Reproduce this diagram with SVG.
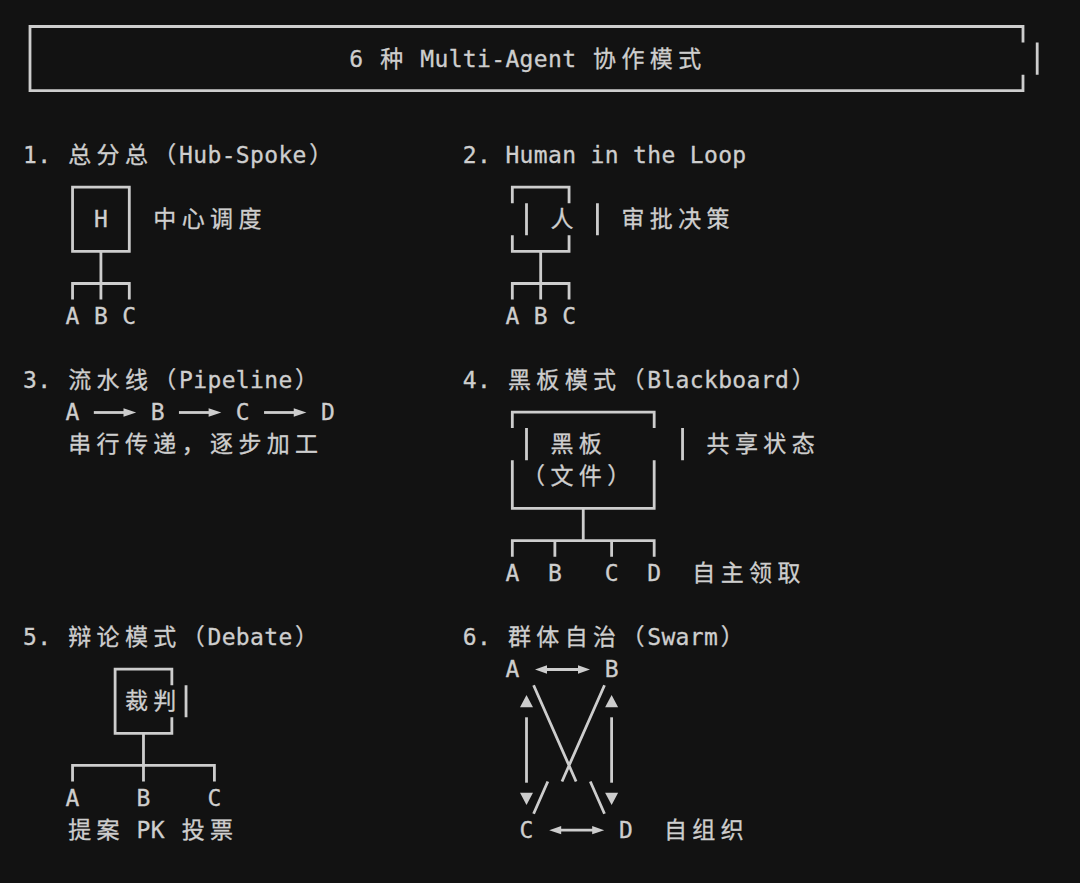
<svg xmlns="http://www.w3.org/2000/svg" xmlns:xlink="http://www.w3.org/1999/xlink" width="1080" height="883" viewBox="0 0 1080 883">
<style>
text{font-family:"DejaVu Sans Mono","Noto Sans CJK SC",monospace;font-size:23px;fill:#cecece;stroke:#cecece;stroke-width:0.3;text-anchor:middle}
.ln{fill:none;stroke:#cdcdcd;stroke-width:2.8;stroke-linecap:butt;stroke-linejoin:miter}
.ah{fill:#cdcdcd;stroke:none}
</style>
<defs>
<g id="pipeArrow"><path class="ln" d="M93.83,412.5 H124.5"/><polygon class="ah" points="123.5,408.3 136.2,412.5 123.5,416.7"/></g>
<g id="biArrow"><path class="ln" d="M545.5,669.5 H579.5"/><polygon class="ah" points="535,669.5 547,665.3 547,673.7"/><polygon class="ah" points="590,669.5 578,665.3 578,673.7"/></g>
<g id="vArrow"><polygon class="ah" points="526.5,695 520,707.3 533,707.3"/><path class="ln" d="M526.5,717.3 V782.7"/><polygon class="ah" points="520,792.7 533,792.7 526.5,805"/></g>
</defs>
<rect width="1080" height="883" fill="#121212"/>

<g id="title">
<path class="ln" d="M1023,42.55 V26.5 H30 V90.7 H1023 V74.7 M1037.2,42.55 V74.7"/>
<text x="356.27 370.46 391.74 413.02 427.2 441.39 455.57 469.76 483.95 498.13 512.32 526.5 540.69 554.87 569.06 583.25 604.53 632.9 661.27 689.64" y="66.6">6 种 Multi-Agent 协作模式</text>
</g>

<g id="sec1-heading"><text x="29.99 44.18 58.37 79.64 108.02 136.39 164.76 186.04 200.23 214.41 228.6 242.78 256.97 271.16 285.34 299.53 320.81" y="163">1. 总分总（Hub-Spoke）</text></g>
<g id="sec1-hub">
<path class="ln" d="M72.55,187.13 H129.3 V251.39 H72.55 Z"/>
<text x="100.92" y="227.26">H</text>
</g>
<g id="sec1-note"><text x="164.76 193.13 221.5 249.88" y="227.26">中心调度</text></g>
<g id="sec1-a"><text x="72.55" y="323.65">A</text></g>
<g id="sec1-b"><text x="100.92" y="323.65">B</text></g>
<g id="sec1-c"><text x="129.3" y="323.65">C</text></g>

<g id="sec2-heading"><text x="469.76 483.95 498.13 512.32 526.5 540.69 554.87 569.06 583.25 597.43 611.62 625.81 639.99 654.18 668.36 682.55 696.74 710.92 725.11 739.29" y="163">2. Human in the Loop</text></g>
<g id="sec2-human">
<path class="ln" d="M512.32,203.21 V187.13 H569.06 V203.21 M526.5,203.21 V235.34 M597.43,203.21 V235.34 M512.32,235.34 V251.39 H569.06 V235.34"/>
<text x="561.97" y="227.26">人</text>
</g>
<g id="sec2-note"><text x="632.9 661.27 689.64 718.01" y="227.26">审批决策</text></g>
<g id="sec2-a"><text x="512.32" y="323.65">A</text></g>
<g id="sec2-b"><text x="540.69" y="323.65">B</text></g>
<g id="sec2-c"><text x="569.06" y="323.65">C</text></g>

<g id="sec3-heading"><text x="29.99 44.18 58.37 79.64 108.02 136.39 164.76 186.04 200.23 214.41 228.6 242.78 256.97 271.16 285.34 306.62" y="387.91">3. 流水线（Pipeline）</text></g>
<g id="sec3-a"><text x="72.55" y="420.04">A</text></g>
<g id="sec3-b"><text x="157.67" y="420.04">B</text></g>
<g id="sec3-c"><text x="242.78" y="420.04">C</text></g>
<g id="sec3-d"><text x="327.9" y="420.04">D</text></g>
<g id="sec3-note"><text x="79.64 108.02 136.39 164.76 193.13 221.5 249.88 278.25 306.62" y="452.17">串行传递，逐步加工</text></g>

<g id="sec4-heading"><text x="469.76 483.95 498.13 519.41 547.78 576.15 604.53 632.9 654.18 668.36 682.55 696.74 710.92 725.11 739.29 753.48 767.67 781.85 803.13" y="387.91">4. 黑板模式（Blackboard）</text></g>
<g id="sec4-board">
<path class="ln" d="M512.32,428.12 V412.04 H654.18 V428.12 M526.5,428.12 V460.25 M682.55,428.12 V460.25 M512.32,460.25 V508.43 H654.18 V460.25"/>
<text x="561.97 590.34" y="452.17">黑板</text>
<text x="533.6 561.97 590.34 618.71" y="484.3">（文件）</text>
</g>
<g id="sec4-note"><text x="718.01 746.39 774.76 803.13" y="452.17">共享状态</text></g>
<g id="sec4-a"><text x="512.32" y="580.69">A</text></g>
<g id="sec4-b"><text x="554.87" y="580.69">B</text></g>
<g id="sec4-c"><text x="611.62" y="580.69">C</text></g>
<g id="sec4-d"><text x="654.18" y="580.69">D</text></g>
<g id="sec4-note2"><text x="703.83 732.2 760.57 788.94" y="580.69">自主领取</text></g>

<g id="sec5-heading"><text x="29.99 44.18 58.37 79.64 108.02 136.39 164.76 193.13 214.41 228.6 242.78 256.97 271.16 285.34 306.62" y="644.95">5. 辩论模式（Debate）</text></g>
<g id="sec5-judge">
<path class="ln" d="M171.85,685.16 V669.08 H115.11 V733.34 H171.85 V717.29 M186.04,685.16 V717.29"/>
<text x="136.39 164.76" y="709.21">裁判</text>
</g>
<g id="sec5-a"><text x="72.55" y="805.6">A</text></g>
<g id="sec5-b"><text x="143.48" y="805.6">B</text></g>
<g id="sec5-c"><text x="214.41" y="805.6">C</text></g>
<g id="sec5-note"><text x="79.64 108.02 129.3 143.48 157.67 171.85 193.13 221.5" y="837.73">提案 PK 投票</text></g>

<g id="sec6-heading"><text x="469.76 483.95 498.13 519.41 547.78 576.15 604.53 632.9 654.18 668.36 682.55 696.74 710.92 732.2" y="644.95">6. 群体自治（Swarm）</text></g>
<g id="sec6-a"><text x="512.32" y="677.08">A</text></g>
<g id="sec6-b"><text x="611.62" y="677.08">B</text></g>
<g id="sec6-c"><text x="526.5" y="837.73">C</text></g>
<g id="sec6-d"><text x="625.81" y="837.73">D</text></g>
<g id="sec6-note"><text x="675.46 703.83 732.2" y="837.73">自组织</text></g>

<g id="connectors">
<path class="ln" d="M100.92,251.39 V299.6 M72.55,299.6 V283.52 H129.3 V299.6"/>
<path class="ln" d="M540.69,251.39 V299.6 M512.32,299.6 V283.52 H569.06 V299.6"/>
<use xlink:href="#pipeArrow"/>
<use xlink:href="#pipeArrow" transform="translate(85.116,0)"/>
<use xlink:href="#pipeArrow" transform="translate(170.232,0)"/>
<path class="ln" d="M583.25,508.43 V540.56 M512.32,556.64 V540.56 H654.18 V556.64 M554.87,540.56 V556.64 M611.62,540.56 V556.64"/>
<path class="ln" d="M143.48,733.34 V781.55 M72.55,781.55 V765.47 H214.41 V781.55"/>
<use xlink:href="#biArrow"/>
<use xlink:href="#biArrow" transform="translate(14.186,160.65)"/>
<use xlink:href="#vArrow"/>
<use xlink:href="#vArrow" transform="translate(85.12,0)"/>
<path class="ln" d="M533.6,685.2 L576.1,781.5 M604.5,685.2 L562,781.5 M547.8,781.5 L533.6,813.7 M590.3,781.5 L604.5,813.7"/>
</g>
</svg>
